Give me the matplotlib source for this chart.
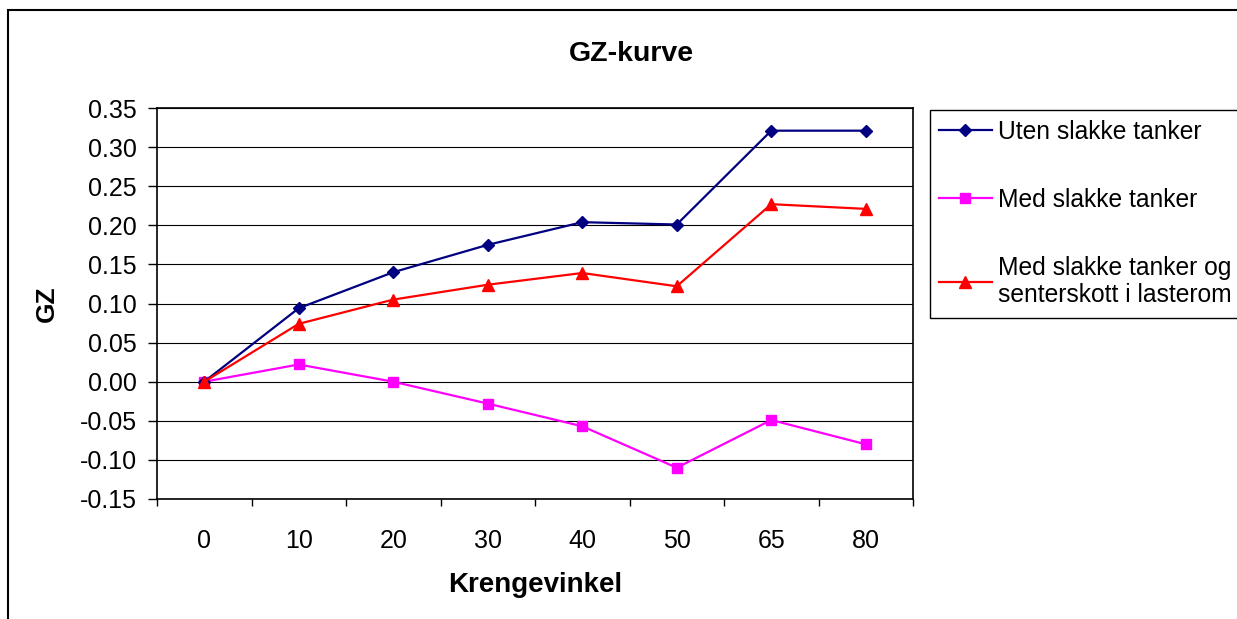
import matplotlib
matplotlib.use("Agg")
import matplotlib.pyplot as plt
from matplotlib.patches import Rectangle
from matplotlib.ticker import FixedLocator, NullFormatter, FixedFormatter
import numpy as np

plt.rcParams['font.family'] = ['Liberation Sans', 'DejaVu Sans']

# ---- data ----
categories = ["0", "10", "20", "30", "40", "50", "65", "80"]
uten_slakke = [0.000, 0.094, 0.140, 0.175, 0.204, 0.201, 0.321, 0.321]
med_slakke = [0.000, 0.022, 0.000, -0.028, -0.057, -0.110, -0.049, -0.080]
med_senterskott = [0.000, 0.074, 0.105, 0.124, 0.139, 0.122, 0.227, 0.221]
series_labels = ["Uten slakke tanker", "Med slakke tanker",
                 "Med slakke tanker og\nsenterskott i lasterom"]
y_ticks = [-0.15, -0.10, -0.05, 0.00, 0.05, 0.10, 0.15, 0.20, 0.25, 0.30, 0.35]
y_tick_labels = ["-0.15", "-0.10", "-0.05", "0.00", "0.05", "0.10", "0.15",
                 "0.20", "0.25", "0.30", "0.35"]
title = "GZ-kurve"
x_label = "Krengevinkel"
y_label = "GZ"

W, H = 1237, 619
def fx(px):
    return px / W
def fy(py):
    return 1 - py / H

fig = plt.figure(figsize=(W / 100, H / 100), dpi=100)
fig.patch.set_facecolor('white')

ax = fig.add_axes([fx(157), fy(499), (913 - 157) / W, (499 - 108) / H])

x = np.arange(len(categories))
l1, = ax.plot(x, uten_slakke, color='#000080', marker='D', ms=6.5, lw=1.6,
              mec='#000080', label=series_labels[0], zorder=4)
l2, = ax.plot(x, med_slakke, color='#FF00FF', marker='s', ms=7.5, lw=1.6,
              mec='#FF00FF', label=series_labels[1], zorder=3)
l3, = ax.plot(x, med_senterskott, color='#FF0000', marker='^', ms=8.5, lw=1.6,
              mec='#FF0000', label=series_labels[2], zorder=5)

ax.set_xlim(-0.5, len(categories) - 0.5)
ax.set_ylim(y_ticks[0], y_ticks[-1])

# y axis
ax.yaxis.set_major_locator(FixedLocator(y_ticks))
ax.yaxis.set_major_formatter(FixedFormatter(y_tick_labels))
ax.tick_params(axis='y', which='major', direction='out', length=6.5, width=1,
               pad=8, labelsize=18, color='black')
ax.yaxis.grid(True, color='black', lw=0.8)
ax.set_axisbelow(True)

# x axis: ticks between categories, labels at categories
ax.xaxis.set_major_locator(FixedLocator(np.arange(-0.5, len(categories), 1.0)))
ax.xaxis.set_major_formatter(NullFormatter())
ax.xaxis.set_minor_locator(FixedLocator(x))
ax.xaxis.set_minor_formatter(FixedFormatter(categories))
ax.tick_params(axis='x', which='major', direction='out', length=5, width=1,
               color='black')
ax.tick_params(axis='x', which='minor', length=0, pad=21.5, labelsize=18)

for s in ax.spines.values():
    s.set_color('black')
    s.set_linewidth(1.2)

# texts
fig.text(fx(631), fy(60.7), title, ha='center', va='baseline',
         fontsize=20.5, fontweight='bold')
fig.text(fx(535), fy(591.7), x_label, ha='center', va='baseline',
         fontsize=20, fontweight='bold')
fig.text(fx(47), fy(304), y_label, ha='center', va='center', rotation=90,
         fontsize=19, fontweight='bold')

# legend
ax.legend(handles=[l1, l2, l3], loc='upper left',
          bbox_to_anchor=(fx(939), fy(120)), bbox_transform=fig.transFigure,
          frameon=False, fontsize=17.7, handlelength=2.15, handletextpad=0.25,
          labelspacing=1.78, borderpad=0, borderaxespad=0, numpoints=1)
fig.add_artist(Rectangle((fx(930), fy(318)), fx(1270) - fx(930), fy(110) - fy(318),
                         transform=fig.transFigure, fill=False, ec='black',
                         lw=1.0, clip_on=False))

# outer chart border
fig.add_artist(Rectangle((fx(8.3), fy(660)), fx(1270) - fx(8.3), fy(10.3) - fy(660),
                         transform=fig.transFigure, fill=False, ec='black',
                         lw=1.5, clip_on=False))

fig.savefig("out.png", dpi=100, facecolor='white')
